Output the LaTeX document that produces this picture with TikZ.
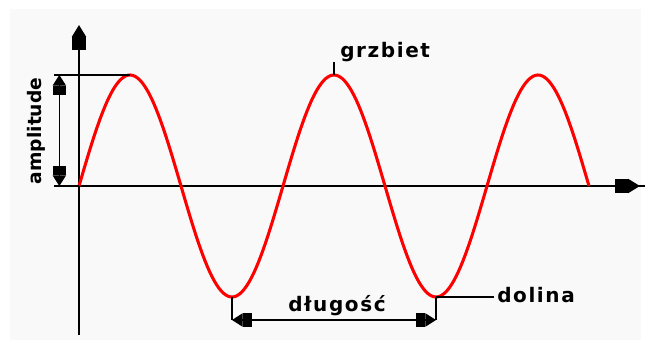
\documentclass[tikz,border=0pt]{standalone}
\usepackage{fontspec}
\newfontfamily\lblfont[LetterSpace=8]{DejaVu Sans}
\newfontfamily\ampfont{DejaVu Sans}
\usetikzlibrary{arrows.meta}

\begin{document}
\begin{tikzpicture}[
  x=0.75pt, y=-0.75pt,
  axis/.style={line width=1.6pt, -{Square[length=10pt,width=10.5pt,sep=0pt]Triangle[length=9pt,width=10.5pt,sep=0pt]}},
  dim/.style={line width=0.8pt, {Triangle[length=8pt,width=10pt,sep=0pt]Square[length=7pt,width=10pt,sep=0pt]}-{Square[length=7pt,width=10pt,sep=0pt]Triangle[length=8pt,width=10pt,sep=0pt]}},
  guide/.style={line width=0.8pt},
  wave/.style={draw=red, line width=2.3pt, line join=round},
  lbl/.style={font=\lblfont\bfseries\fontsize{15}{17}\selectfont, inner sep=0pt},
]
\useasboundingbox (0,0) rectangle (649,345);
\fill[black!2.5] (10,9) rectangle (641,340);
% axes
\coordinate (o)    at (79,186);
\coordinate (ytop) at (79,25);
\coordinate (ybot) at (79,335);
\coordinate (xend) at (645,186);
\coordinate (xhead) at (640,186);
\draw[line width=1.6pt] (ybot) -- (o) -- (xend);
\draw[axis] (o) -- (ytop);
\draw[axis] (o) -- (xhead);
% wave
\coordinate (p1) at (130,75);
\coordinate (p2) at (334,75);
\coordinate (t1) at (232,297);
\coordinate (t2) at (436,297);
\draw[wave] plot[domain=0:900, samples=220] ({79+\x/360*204}, {186-111*sin(\x)});
% amplitude
\coordinate (atop) at (54,75);
\coordinate (abot) at (54,186);
\draw[guide] (atop) -- (p1);
\draw[guide] (abot) -- (o);
\draw[dim] ([xshift=4]abot) -- ([xshift=4]atop);
\node[font=\ampfont\bfseries\fontsize{14}{16}\selectfont, rotate=90, anchor=base, inner sep=0pt] (amp) at (41,131) {amplitude};
% wavelength
\coordinate (w1) at (232,320);
\coordinate (w2) at (436,320);
\draw[guide] (t1) -- (w1);
\draw[guide] (t2) -- (w2);
\draw[dim] (w1) -- (w2);
\node[lbl, anchor=base] (len) at (337,311) {długość};
% crest and trough
\coordinate (g1) at (334,62);
\coordinate (d1) at (494,297);
\draw[guide] (p2) -- (g1);
\node[lbl, anchor=base west] (crest) at (340,58) {grzbiet};
\draw[guide] (t2) -- (d1);
\node[lbl, anchor=west] (trough) at (497,295) {dolina};
\end{tikzpicture}
\end{document}
